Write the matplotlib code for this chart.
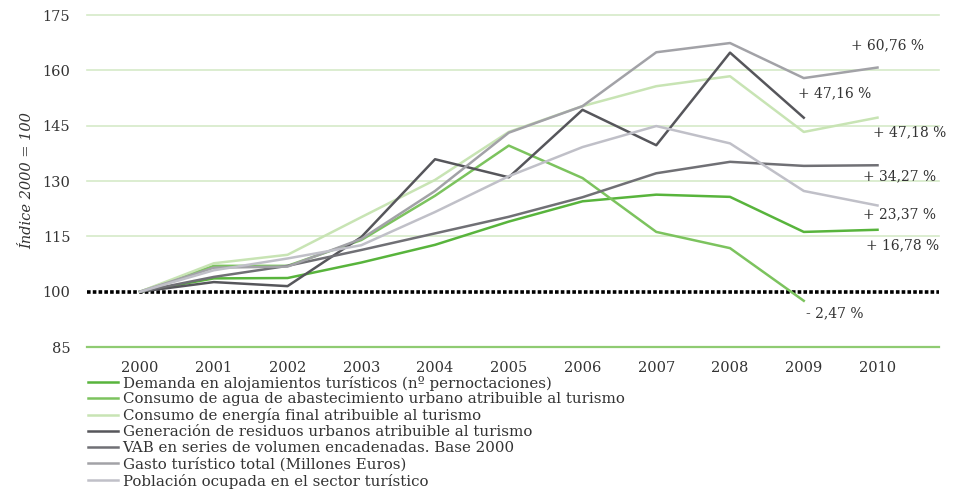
import numpy as np
import matplotlib.pyplot as plt

years = np.arange(2000, 2011)

demanda = [100, 103.6, 103.7, 107.9, 112.7, 119.0, 124.5, 126.3, 125.7, 116.2, 116.78]
agua = [100, 107.0, 107.0, 114.0, 126.0, 139.6, 130.8, 116.2, 111.8, 97.53]
energia = [100, 107.7, 110.0, 120.2, 130.3, 143.3, 150.3, 155.7, 158.4, 143.3, 147.18]
residuos = [100, 102.6, 101.5, 114.8, 135.9, 131.0, 149.3, 139.7, 164.8, 147.16]
vab = [100, 104.0, 107.0, 111.3, 115.8, 120.3, 125.6, 132.1, 135.2, 134.1, 134.27]
gasto = [100, 106.5, 106.8, 114.3, 127.3, 143.1, 150.3, 164.9, 167.4, 157.9, 160.76]
poblacion = [100, 105.8, 109.0, 112.6, 121.6, 131.3, 139.2, 144.9, 140.2, 127.3, 123.37]

labels = [
    "Demanda en alojamientos turísticos (nº pernoctaciones)",
    "Consumo de agua de abastecimiento urbano atribuible al turismo",
    "Consumo de energía final atribuible al turismo",
    "Generación de residuos urbanos atribuible al turismo",
    "VAB en series de volumen encadenadas. Base 2000",
    "Gasto turístico total (Millones Euros)",
    "Población ocupada en el sector turístico",
]
series = [demanda, agua, energia, residuos, vab, gasto, poblacion]
colors = ["#58b43c", "#7cc35e", "#c8e4b4", "#56565b", "#707075", "#a2a2a7", "#c0c0c8"]

annot_text = ["+ 60,76 %", "+ 47,16 %", "+ 47,18 %", "+ 34,27 %", "+ 23,37 %", "+ 16,78 %", "- 2,47 %"]
annot_x = [2010.13, 2009.42, 2010.43, 2010.3, 2010.3, 2010.34, 2009.42]
annot_y = [166.8, 153.8, 143.3, 131.3, 121.0, 112.6, 94.2]

plt.rcParams['font.family'] = ['DejaVu Serif']

fig = plt.figure(figsize=(9.6, 4.92), dpi=100)
ax = fig.add_axes([0.0906, 0.2947, 0.888, 0.6748])

for y in [115, 130, 145, 160, 175]:
    ax.axhline(y, color="#d6eac8", lw=1.2, zorder=0, clip_on=False)
ax.axhline(85, color="#8fcb72", lw=1.6, zorder=0, clip_on=False)
ax.axhline(100, color="black", lw=2.6, ls=(0, (1, 0.6)), zorder=1)

lines = []
for s, c, lab in zip(series, colors, labels):
    ln, = ax.plot(years[:len(s)], s, color=c, lw=1.8, label=lab, zorder=2)
    lines.append(ln)

for t, x, y in zip(annot_text, annot_x, annot_y):
    ax.text(x, y, t, ha="center", va="center", fontsize=10, color="#333333")

ax.set_xlim(1999.28, 2010.84)
ax.set_ylim(85, 175)
ax.set_yticks([85, 100, 115, 130, 145, 160, 175])
ax.set_xticks(years)
ax.tick_params(length=0, labelsize=10.5, colors="#333333")
ax.tick_params(axis="x", pad=10)
ax.tick_params(axis="y", pad=12)
for sp in ax.spines.values():
    sp.set_visible(False)
ax.set_ylabel("Índice 2000 = 100", style="italic", fontsize=10.5, color="#333333", labelpad=6)

fig.legend(handles=lines, loc="upper left", bbox_to_anchor=(0.084, 0.252), frameon=False,
           fontsize=10.8, handlelength=2.0, handletextpad=0.3, labelspacing=0.13,
           borderpad=0, labelcolor="#333333")

fig.savefig("out.png", dpi=100)
